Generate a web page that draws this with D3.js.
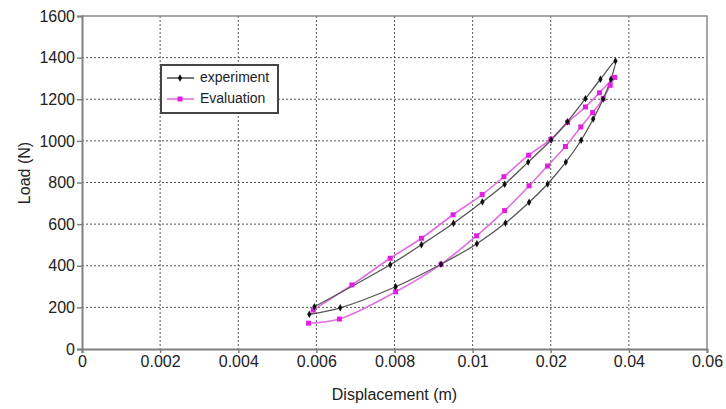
<!DOCTYPE html>
<html>
<head>
<meta charset="utf-8">
<script src="https://cdn.jsdelivr.net/npm/d3@7"></script>
<style>
  body { margin: 0; background: #fff; }
  text { font-family: "Liberation Sans", Arial, sans-serif; fill: #222; }
</style>
</head>
<body>
<div id="chart"></div>
<script>
// tick labels as printed on the original (uneven steps, even spacing)
let xTicks = [0, 0.002, 0.004, 0.006, 0.008, 0.01, 0.02, 0.04, 0.06];
let xTickLabels = ['0', '0.002', '0.004', '0.006', '0.008', '0.01', '0.02', '0.04', '0.06'];
let yTicks = [0, 200, 400, 600, 800, 1000, 1200, 1400, 1600];

// experiment loop: loading branch up, then unloading branch down
let expDisp = [0.00582, 0.00661, 0.00803, 0.00919, 0.01054, 0.0142, 0.01723, 0.0196, 0.02386, 0.02778,
  0.03086, 0.03342, 0.0354, 0.03656, 0.03272, 0.02888, 0.02428, 0.0201, 0.01711, 0.0141,
  0.01125, 0.00951, 0.00869, 0.00789, 0.00595];
let expLoad = [167, 198, 299, 407, 506, 605, 705, 793, 898, 1003,
  1105, 1201, 1296, 1384, 1296, 1203, 1092, 1004, 898, 792,
  707, 604, 501, 405, 203];

let evalDisp = [0.0058, 0.00659, 0.00803, 0.00919, 0.01051, 0.0141, 0.01723, 0.01958, 0.02376, 0.0277,
  0.03072, 0.03342, 0.03522, 0.03636, 0.03246, 0.02888, 0.02432, 0.02002, 0.01717, 0.01401,
  0.01122, 0.0095, 0.00869, 0.00789, 0.00691, 0.00592];
let evalLoad = [124, 144, 275, 407, 544, 665, 784, 879, 973, 1067,
  1136, 1203, 1267, 1305, 1231, 1163, 1089, 1008, 931, 828,
  742, 645, 532, 436, 308, 187];

var width = 726, height = 409;
var margin = {left: 82, top: 16, right: 19, bottom: 60};
var w = width - margin.left - margin.right, h = height - margin.top - margin.bottom;

let svg = d3.select('#chart').append('svg')
  .attr('width', width)
  .attr('height', height);

let g = svg.append('g').attr('transform', `translate(${margin.left},${margin.top})`);

// piecewise scale so the printed ticks sit evenly spaced
let xScale = d3.scaleLinear()
  .domain(xTicks)
  .range(xTicks.map((d, i) => i * w / (xTicks.length - 1)));
let yScale = d3.scaleLinear().domain([0, 1600]).range([h, 0]);

// grid
g.selectAll('.vgrid').data(xTicks.slice(1, -1)).enter().append('line')
  .attr('x1', d => xScale(d)).attr('x2', d => xScale(d))
  .attr('y1', 0).attr('y2', h)
  .attr('stroke', '#555').attr('stroke-width', 1).attr('stroke-dasharray', '2,2');
g.selectAll('.hgrid').data(yTicks.slice(1, -1)).enter().append('line')
  .attr('x1', 0).attr('x2', w)
  .attr('y1', d => yScale(d)).attr('y2', d => yScale(d))
  .attr('stroke', '#555').attr('stroke-width', 1).attr('stroke-dasharray', '2,2');

// plot border (top, right)
g.append('path')
  .attr('d', `M0,0H${w}V${h}`)
  .attr('fill', 'none').attr('stroke', '#8a8a8a').attr('stroke-width', 1.5);

// axes
let xAxis = d3.axisBottom(xScale).tickValues(xTicks)
  .tickFormat((d, i) => xTickLabels[i]).tickSize(4).tickPadding(3);
let yAxis = d3.axisLeft(yScale).tickValues(yTicks).tickFormat(d3.format('d'))
  .tickSize(5).tickPadding(2);

let gx = g.append('g').attr('transform', `translate(0,${h})`).call(xAxis);
let gy = g.append('g').call(yAxis);
[gx, gy].forEach(a => {
  a.select('.domain').attr('stroke', '#808080').attr('stroke-width', 2);
  a.selectAll('.tick line').attr('stroke', '#808080').attr('stroke-width', 1.5);
  a.selectAll('.tick text').style('font-size', '16px').attr('fill', '#222')
    .style('font-family', '"Liberation Sans", Arial, sans-serif');
});

// axis titles
svg.append('text')
  .attr('x', margin.left + w / 2).attr('y', 400)
  .attr('text-anchor', 'middle').style('font-size', '16px')
  .text('Displacement (m)');
svg.append('text')
  .attr('transform', 'translate(26,173) rotate(-90)')
  .attr('text-anchor', 'middle').attr('dominant-baseline', 'middle')
  .style('font-size', '16px')
  .text('Load (N)');

// series
let line = d3.line()
  .x(d => xScale(d[0]))
  .y(d => yScale(d[1]))
  .curve(d3.curveCatmullRom.alpha(0.5));

let expData = expDisp.map((d, i) => [d, expLoad[i]]);
let evalData = evalDisp.map((d, i) => [d, evalLoad[i]]);

g.append('path').datum(evalData)
  .attr('d', line).attr('fill', 'none')
  .attr('stroke', '#e070e0').attr('stroke-width', 1.6);
g.append('path').datum(expData)
  .attr('d', line).attr('fill', 'none')
  .attr('stroke', '#555').attr('stroke-width', 1.3);

g.selectAll('.evm').data(evalData).enter().append('rect')
  .attr('x', d => xScale(d[0]) - 2.5).attr('y', d => yScale(d[1]) - 2.5)
  .attr('width', 5).attr('height', 5)
  .attr('fill', '#e020e0');

let diamond = d3.symbol().type(d3.symbolDiamond).size(16);
g.selectAll('.exm').data(expData).enter().append('path')
  .attr('d', diamond)
  .attr('transform', d => `translate(${xScale(d[0])},${yScale(d[1])})`)
  .attr('fill', '#111');

// legend
let leg = svg.append('g');
leg.append('rect')
  .attr('x', 161).attr('y', 65).attr('width', 117).attr('height', 48)
  .attr('fill', '#fff').attr('stroke', '#444').attr('stroke-width', 2);
let legItems = [
  {name: 'experiment', color: '#555', mark: '#111', y: 78},
  {name: 'Evaluation', color: '#e070e0', mark: '#e020e0', y: 99}
];
legItems.forEach((it, i) => {
  leg.append('line')
    .attr('x1', 167).attr('x2', 194).attr('y1', it.y).attr('y2', it.y)
    .attr('stroke', it.color).attr('stroke-width', 1.6);
  if (i == 0) {
    leg.append('path').attr('d', diamond)
      .attr('transform', `translate(180,${it.y})`).attr('fill', it.mark);
  } else {
    leg.append('rect').attr('x', 177.5).attr('y', it.y - 2.5)
      .attr('width', 5).attr('height', 5).attr('fill', it.mark);
  }
  leg.append('text')
    .attr('x', 200).attr('y', it.y)
    .attr('dominant-baseline', 'middle')
    .style('font-size', '14px')
    .text(it.name);
});
</script>
</body>
</html>
